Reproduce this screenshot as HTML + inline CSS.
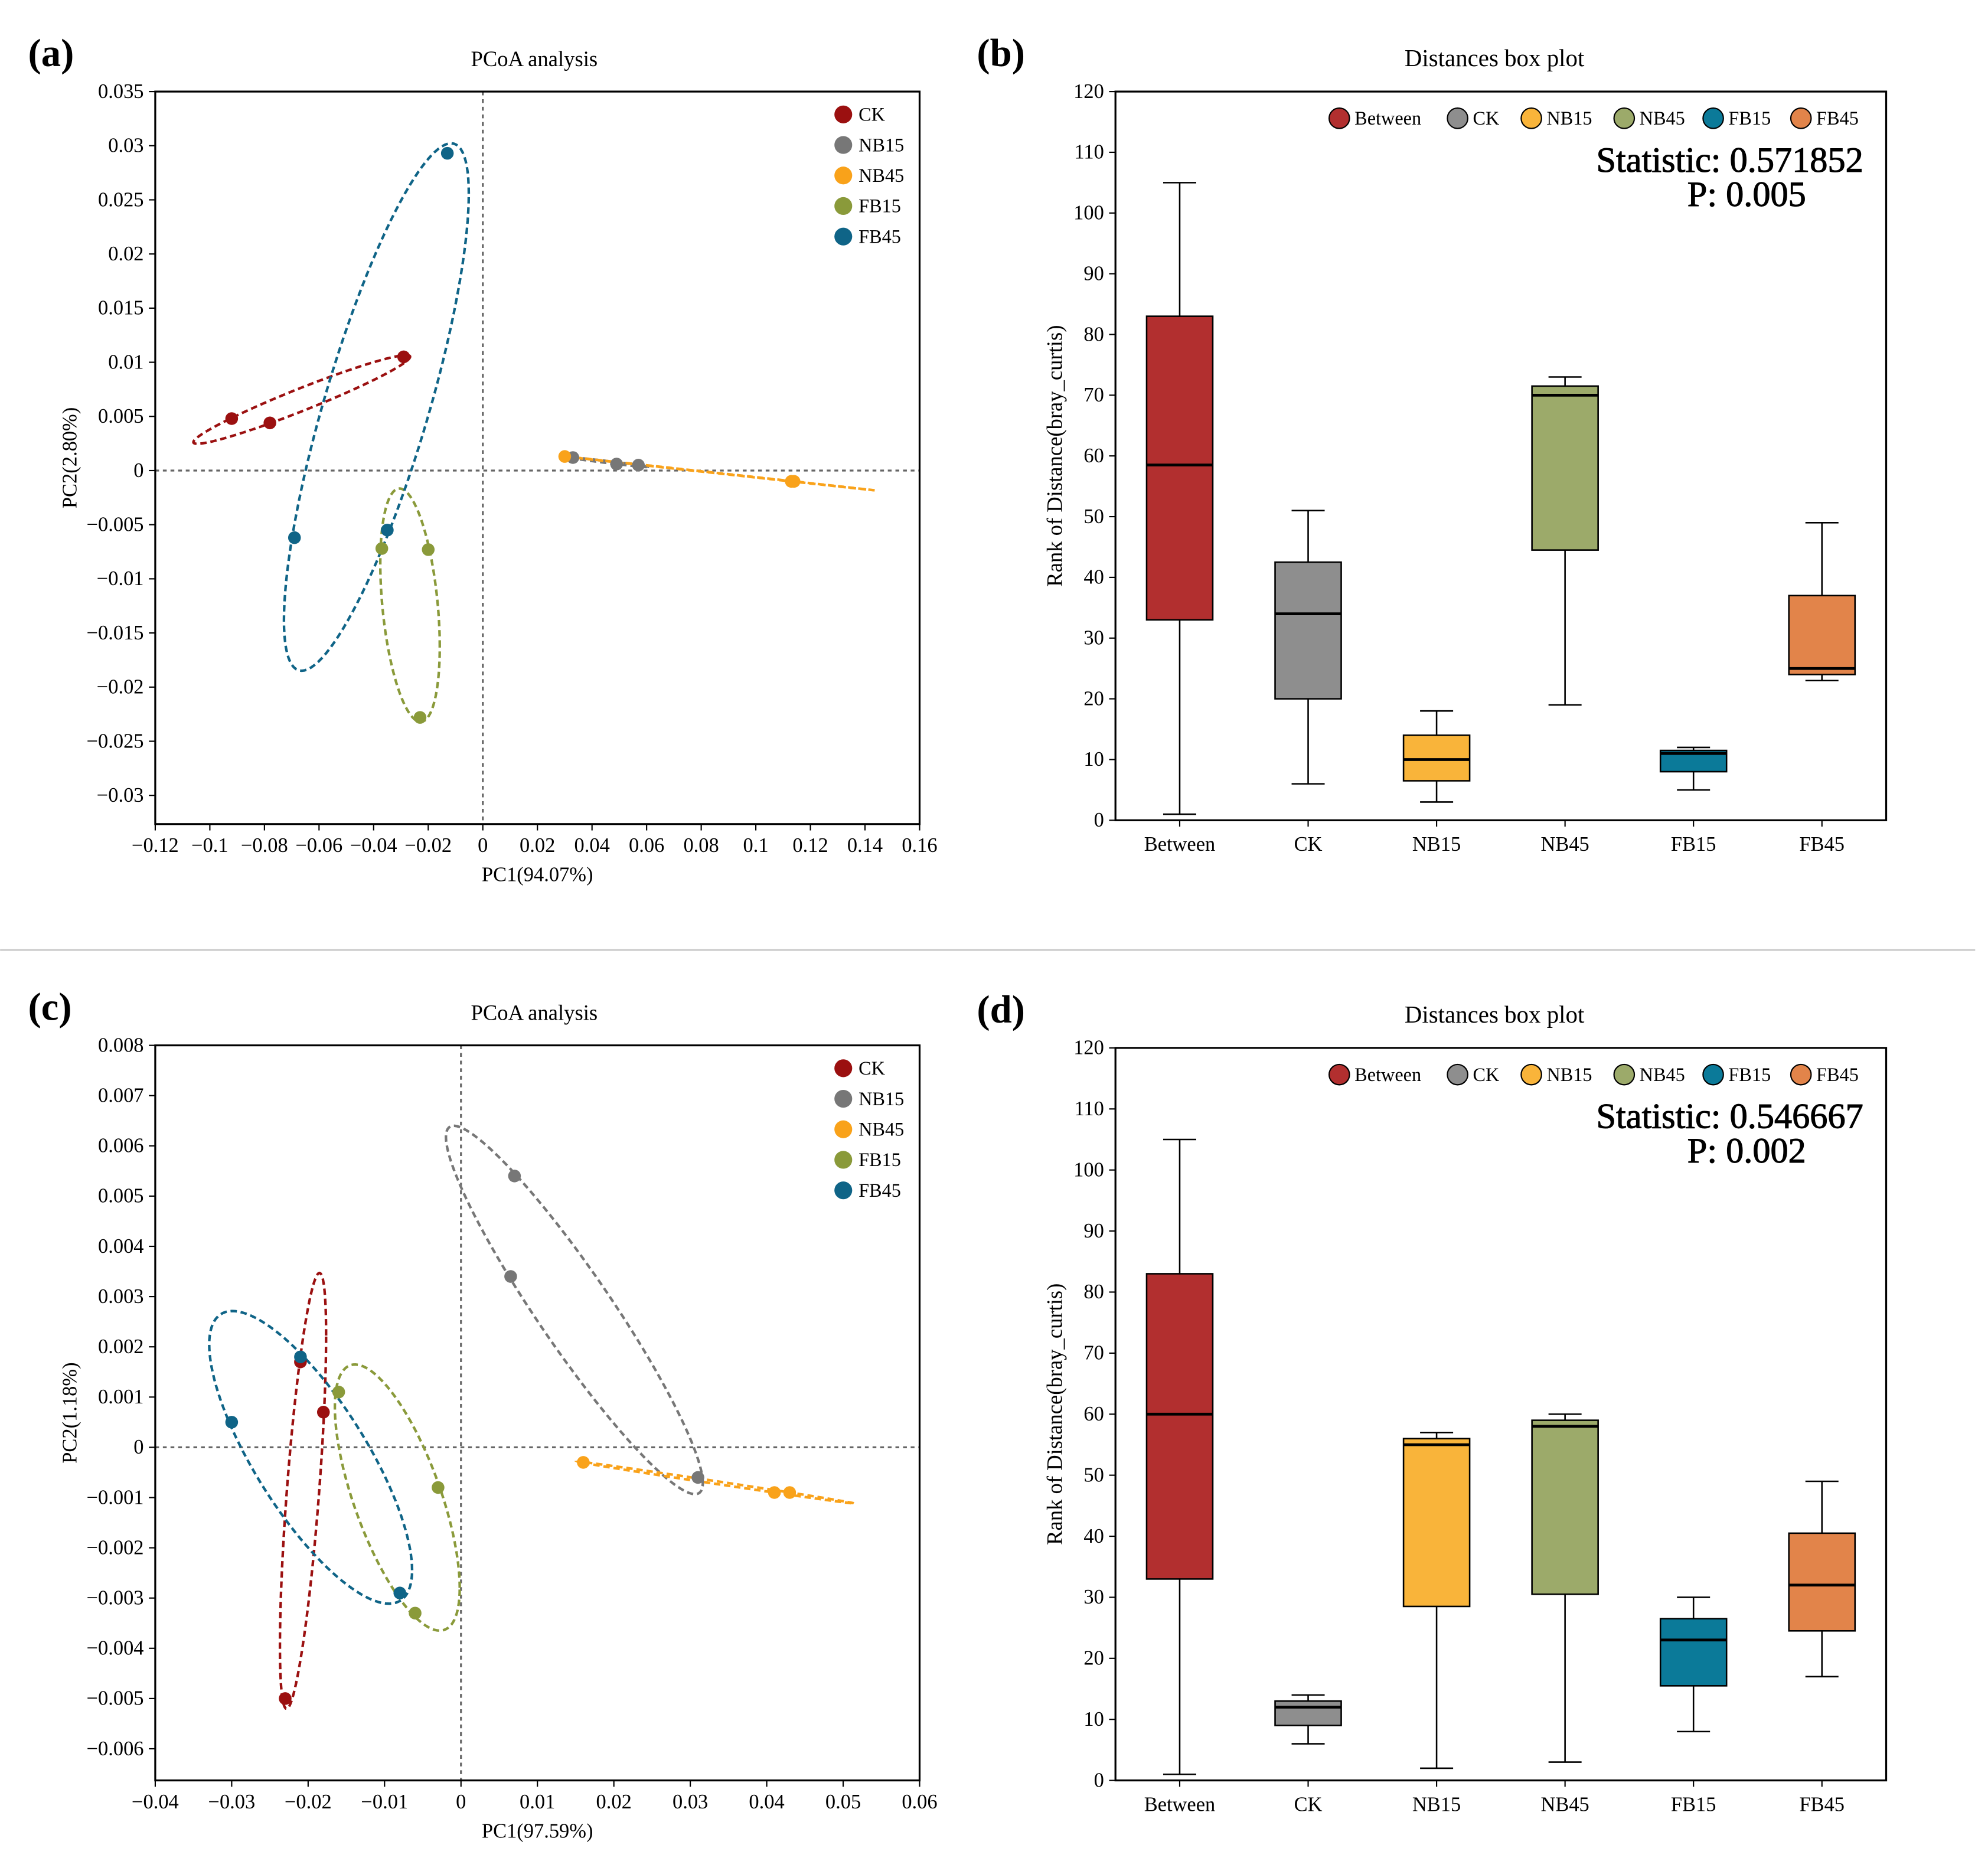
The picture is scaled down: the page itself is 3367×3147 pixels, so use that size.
<!DOCTYPE html>
<html><head><meta charset="utf-8"><style>html,body{margin:0;padding:0;background:#fff}svg{display:block}</style></head>
<body>
<svg id="s" width="3367" height="3147" viewBox="0 0 1563 1461" xmlns="http://www.w3.org/2000/svg" font-family="'Liberation Serif', serif">
<rect width="1563" height="1461" fill="#fff"/>
<line x1="0" y1="747" x2="1553" y2="747" stroke="#ccc" stroke-width="1.5"/>
</svg>
<script>
// ---------- DATA ----------
const groups = ['CK','NB15','NB45','FB15','FB45'];
const pointColors = ['#9b1010','#777777','#f9a21a','#8a9a3a','#0f6487'];
const pcoaA_x = [[-0.092,-0.078,-0.029],[0.033,0.049,0.057],[0.030,0.113,0.114],[-0.037,-0.020,-0.023],[-0.013,-0.035,-0.069]];
const pcoaA_y = [[0.0048,0.0044,0.0105],[0.0012,0.0006,0.0005],[0.0013,-0.0010,-0.0010],[-0.0072,-0.0073,-0.0228],[0.0293,-0.0055,-0.0062]];
const pcoaC_x = [[-0.021,-0.018,-0.023],[0.007,0.0065,0.031],[0.016,0.041,0.043],[-0.016,-0.003,-0.006],[-0.021,-0.030,-0.008]];
const pcoaC_y = [[0.0017,0.0007,-0.0050],[0.0054,0.0034,-0.0006],[-0.0003,-0.0009,-0.0009],[0.0011,-0.0008,-0.0033],[0.0018,0.0005,-0.0029]];
const ticksAx = [-0.12,-0.1,-0.08,-0.06,-0.04,-0.02,0,0.02,0.04,0.06,0.08,0.1,0.12,0.14,0.16];
const ticksAy = [0.035,0.03,0.025,0.02,0.015,0.01,0.005,0,-0.005,-0.01,-0.015,-0.02,-0.025,-0.03];
const ticksCx = [-0.04,-0.03,-0.02,-0.01,0,0.01,0.02,0.03,0.04,0.05,0.06];
const ticksCy = [0.008,0.007,0.006,0.005,0.004,0.003,0.002,0.001,0,-0.001,-0.002,-0.003,-0.004,-0.005,-0.006];
const boxCats = ['Between','CK','NB15','NB45','FB15','FB45'];
const boxColors = ['#b22f2f','#8e8e8e','#f9b43a','#9caa6a','#0b7a99','#e2844a'];
const boxB_min = [1,6,3,19,5,23];
const boxB_q1 = [33,20,6.5,44.5,8,24];
const boxB_med = [58.5,34,10,70,11,25];
const boxB_q3 = [83,42.5,14,71.5,11.5,37];
const boxB_max = [105,51,18,73,12,49];
const boxD_min = [1,6,2,3,8,17];
const boxD_q1 = [33,9,28.5,30.5,15.5,24.5];
const boxD_med = [60,12,55,58,23,32];
const boxD_q3 = [83,13,56,59,26.5,40.5];
const boxD_max = [105,14,57,60,30,49];
const boxTicks = [0,10,20,30,40,50,60,70,80,90,100,110,120];

const NS='http://www.w3.org/2000/svg';
const svg=document.getElementById('s');
function el(tag,attrs,parent,text){const e=document.createElementNS(NS,tag);for(const k in attrs)e.setAttribute(k,attrs[k]);if(text!==undefined)e.textContent=text;(parent||svg).appendChild(e);return e;}
function fmt(v){let s=String(Math.round(v*10000)/10000);return s.replace('-','\u2212');}

function text(x,y,s,size,anchor,name,extra){const t=el('text',Object.assign({x:x,y:y,'font-size':size,'text-anchor':anchor||'start',fill:'#000'},extra||{}),svg,s);


return t;}

function pcoa(px,py,pw,ph,xmin,xmax,ymin,ymax,xt,yt,X,Y,label,title,xl,yl,legY){
  const sx=v=>px+(v-xmin)/(xmax-xmin)*pw, sy=v=>py+(ymax-v)/(ymax-ymin)*ph;
  const g=el('g',{});
  
  
  el('line',{x1:sx(0),y1:py,x2:sx(0),y2:py+ph,stroke:'#666','stroke-dasharray':'3,3','stroke-width':1.5},g);
  el('line',{x1:px,y1:sy(0),x2:px+pw,y2:sy(0),stroke:'#666','stroke-dasharray':'3,3','stroke-width':1.5},g);
  for(let i=0;i<groups.length;i++){
    const xs=X[i],ys=Y[i],n=xs.length;
    const mx=xs.reduce((a,b)=>a+b)/n,my=ys.reduce((a,b)=>a+b)/n;
    let cxx=0,cyy=0,cxy=0;for(let j=0;j<n;j++){cxx+=(xs[j]-mx)**2;cyy+=(ys[j]-my)**2;cxy+=(xs[j]-mx)*(ys[j]-my);}
    cxx/=(n-1);cyy/=(n-1);cxy/=(n-1);
    const l11=Math.sqrt(cxx),l21=cxy/l11,l22=Math.sqrt(Math.max(cyy-l21*l21,0));
    const k=1.2;let d='';
    for(let t=0;t<=360;t+=3){const a=t*Math.PI/180,c=Math.cos(a),s=Math.sin(a);
      const vx=mx+k*l11*c, vy=my+k*(l21*c+l22*s);
      d+=(t?'L':'M')+sx(vx).toFixed(2)+','+sy(vy).toFixed(2);}
    const p=el('path',{d:d+'Z',fill:'none',stroke:pointColors[i],'stroke-width':2,'stroke-dasharray':'5,3'},g);
    
    
  }
  for(let i=0;i<groups.length;i++)for(let j=0;j<X[i].length;j++){
    const c=el('circle',{cx:sx(X[i][j]),cy:sy(Y[i][j]),r:5,fill:pointColors[i]},g);
    
    
  }
  const fr=el('rect',{x:px,y:py,width:pw,height:ph,fill:'none',stroke:'#000','stroke-width':1.5},g);
  
  
  xt.forEach(v=>{el('line',{x1:sx(v),y1:py+ph,x2:sx(v),y2:py+ph+5,stroke:'#000'},g);text(sx(v),py+ph+22,fmt(v),16,'middle','x-tick-label');});
  yt.forEach(v=>{el('line',{x1:px,y1:sy(v),x2:px-5,y2:sy(v),stroke:'#000'},g);text(px-9,sy(v)+5,fmt(v),16,'end','y-tick-label');});
  text(px+pw/2,py+ph+45,xl,16,'middle','x-axis-title');
  const yy=py+ph/2;text(60,yy,yl,16,'middle','y-axis-title',{transform:'rotate(-90 60 '+yy+')'});
  text(420,py-20,title,17,'middle','chart-title');
  text(22,py-20,label,31,'start','panel-label',{'font-weight':'bold'});
  groups.forEach((gname,i)=>{const c=el('circle',{cx:663,cy:legY+i*24,r:7,fill:pointColors[i]},g);
    
    
    text(675,legY+i*24+5,gname,15,'start','legend-entry');});
}

function boxplot(px,py,pw,ph,mn,q1,md,q3,mx,label,stat,pval){
  const sy=v=>py+ph-(v/120)*ph, band=pw/boxCats.length, cx=i=>px+band*(i+0.5);
  const g=el('g',{});
  
  
  boxCats.forEach((c,i)=>{
    const x=cx(i),w=26;
    el('line',{x1:x,y1:sy(mx[i]),x2:x,y2:sy(q3[i]),stroke:'#000','stroke-width':1.2},g);
    el('line',{x1:x,y1:sy(q1[i]),x2:x,y2:sy(mn[i]),stroke:'#000','stroke-width':1.2},g);
    el('line',{x1:x-13,y1:sy(mx[i]),x2:x+13,y2:sy(mx[i]),stroke:'#000','stroke-width':1.2},g);
    el('line',{x1:x-13,y1:sy(mn[i]),x2:x+13,y2:sy(mn[i]),stroke:'#000','stroke-width':1.2},g);
    const r=el('rect',{x:x-w,y:sy(q3[i]),width:2*w,height:sy(q1[i])-sy(q3[i]),fill:boxColors[i],stroke:'#000','stroke-width':1.2},g);
    
    
    el('line',{x1:x-w,y1:sy(md[i]),x2:x+w,y2:sy(md[i]),stroke:'#000','stroke-width':2.2},g);
    el('line',{x1:x,y1:py+ph,x2:x,y2:py+ph+5,stroke:'#000'},g);
    text(x,py+ph+24,c,16,'middle','x-tick-label');
  });
  const fr=el('rect',{x:px,y:py,width:pw,height:ph,fill:'none',stroke:'#000','stroke-width':1.5},g);
  
  
  boxTicks.forEach(v=>{el('line',{x1:px,y1:sy(v),x2:px-5,y2:sy(v),stroke:'#000'},g);text(px-9,sy(v)+5,String(v),16,'end','y-tick-label');});
  const yy=py+ph/2;text(835,yy,'Rank of Distance(bray_curtis)',17,'middle','y-axis-title',{transform:'rotate(-90 835 '+yy+')'});
  text(1175,py-20,'Distances box plot',19,'middle','chart-title');
  text(768,py-20,label,31,'start','panel-label',{'font-weight':'bold'});
  const lx=[1053,1146,1204,1277,1347,1416];
  boxCats.forEach((c,i)=>{const m=el('circle',{cx:lx[i],cy:py+21,r:8,fill:boxColors[i],stroke:'#000','stroke-width':1},g);
    
    
    text(lx[i]+12,py+26,c,15,'start','legend-entry');});
  text(1465,py+63,'Statistic: '+stat,28,'end','statistic-label',{stroke:'#000','stroke-width':0.5});
  text(1420,py+90,'P: '+pval,28,'end','p-value-label',{stroke:'#000','stroke-width':0.5});
}

pcoa(122,72,601,576,-0.12,0.16,-0.03265,0.035,ticksAx,ticksAy,pcoaA_x,pcoaA_y,'(a)','PCoA analysis','PC1(94.07%)','PC2(2.80%)',90);
boxplot(877,72,606,573,boxB_min,boxB_q1,boxB_med,boxB_q3,boxB_max,'(b)','0.571852','0.005');
pcoa(122,822,601,578,-0.04,0.06,-0.00663,0.008,ticksCx,ticksCy,pcoaC_x,pcoaC_y,'(c)','PCoA analysis','PC1(97.59%)','PC2(1.18%)',840);
boxplot(877,824,606,576,boxD_min,boxD_q1,boxD_med,boxD_q3,boxD_max,'(d)','0.546667','0.002');
</script>
</body></html>
